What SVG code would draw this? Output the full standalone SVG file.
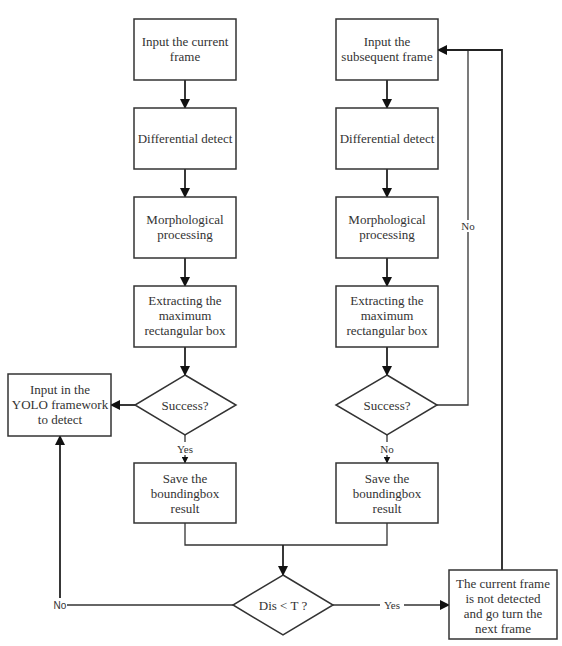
<svg xmlns="http://www.w3.org/2000/svg" width="562" height="646" viewBox="0 0 562 646">
<style>
.box{fill:#fff;stroke:#333;stroke-width:1.5}
text{font-family:'Liberation Serif','Times New Roman','DejaVu Serif',serif;fill:#333;text-anchor:middle}
.t{font-size:13px}
.l{font-size:11px}
.c{fill:none;stroke:#222;stroke-width:1.8}
.c2{fill:none;stroke:#333;stroke-width:1.3}
</style>
<defs>
<marker id="a" markerWidth="10" markerHeight="10" refX="9" refY="5" orient="auto" markerUnits="userSpaceOnUse"><path d="M0,0 L10,5 L0,10 Z" fill="#111"/></marker>
<marker id="s" markerWidth="7" markerHeight="7" refX="6.5" refY="3.5" orient="auto" markerUnits="userSpaceOnUse"><path d="M0,0 L7,3.5 L0,7 Z" fill="#111"/></marker>
</defs>
<rect width="562" height="646" fill="#fff"/>
<g id="connectors">
<path class="c" d="M185,80 V108" marker-end="url(#a)"/>
<path class="c" d="M185,169 V197" marker-end="url(#a)"/>
<path class="c" d="M185,258 V286" marker-end="url(#a)"/>
<path class="c" d="M185,347 V375" marker-end="url(#a)"/>
<path class="c" d="M387,80 V108" marker-end="url(#a)"/>
<path class="c" d="M387,169 V197" marker-end="url(#a)"/>
<path class="c" d="M387,258 V286" marker-end="url(#a)"/>
<path class="c" d="M387,347 V375" marker-end="url(#a)"/>
<path class="c" d="M135,405 H111" marker-end="url(#a)"/>
<path class="c2" d="M185,435 V442"/>
<path class="c2" d="M185,455 V463" marker-end="url(#s)"/>
<path class="c2" d="M387,435 V442"/>
<path class="c2" d="M387,455 V463" marker-end="url(#s)"/>
<path class="c2" d="M437,405 H468 V232"/>
<path class="c2" d="M468,220 V50"/>
<path class="c" d="M502,570 V50 H438" marker-end="url(#a)"/>
<path class="c2" d="M185,523 V545 H387 V523"/>
<path class="c" d="M283,545 V575" marker-end="url(#a)"/>
<path class="c2" d="M333,605 H380"/>
<path class="c2" d="M404,605 H449" marker-end="url(#a)"/>
<path class="c2" d="M233,605 H67"/>
<path class="c" d="M60,598 V436" marker-end="url(#a)"/>
<text class="l" x="185" y="453">Yes</text>
<text class="l" x="387" y="453">No</text>
<text class="l" x="468" y="230">No</text>
<text class="l" x="392" y="609">Yes</text>
<text class="l" x="60" y="609" font-family="Liberation Sans, Arial, sans-serif" style="font-family:'Liberation Sans',Arial,sans-serif;font-size:10px">No</text>
</g>
<g id="n1"><rect class="box" x="134" y="19" width="102" height="61"/><text class="t" x="185" y="46">Input the current</text><text class="t" x="185" y="61">frame</text></g>
<g id="n2"><rect class="box" x="134" y="108" width="102" height="61"/><text class="t" x="185" y="143">Differential detect</text></g>
<g id="n3"><rect class="box" x="134" y="197" width="102" height="61"/><text class="t" x="185" y="224">Morphological</text><text class="t" x="185" y="239">processing</text></g>
<g id="n4"><rect class="box" x="134" y="286" width="102" height="61"/><text class="t" x="185" y="305">Extracting the</text><text class="t" x="185" y="320">maximum</text><text class="t" x="185" y="335">rectangular box</text></g>
<g id="n5"><polygon class="box" points="185,375 236,405 185,435 135,405"/><text class="t" x="185" y="410">Success?</text></g>
<g id="n6"><rect class="box" x="8" y="374" width="103" height="62"/><text class="t" x="60" y="394">Input in the</text><text class="t" x="60" y="409">YOLO framework</text><text class="t" x="60" y="424">to detect</text></g>
<g id="n7"><rect class="box" x="134" y="463" width="102" height="60"/><text class="t" x="185" y="483">Save the</text><text class="t" x="185" y="498">boundingbox</text><text class="t" x="185" y="513">result</text></g>
<g id="m1"><rect class="box" x="336" y="19" width="102" height="61"/><text class="t" x="387" y="46">Input the</text><text class="t" x="387" y="61">subsequent frame</text></g>
<g id="m2"><rect class="box" x="336" y="108" width="102" height="61"/><text class="t" x="387" y="143">Differential detect</text></g>
<g id="m3"><rect class="box" x="336" y="197" width="102" height="61"/><text class="t" x="387" y="224">Morphological</text><text class="t" x="387" y="239">processing</text></g>
<g id="m4"><rect class="box" x="336" y="286" width="102" height="61"/><text class="t" x="387" y="305">Extracting the</text><text class="t" x="387" y="320">maximum</text><text class="t" x="387" y="335">rectangular box</text></g>
<g id="m5"><polygon class="box" points="387,375 437,405 387,435 336,405"/><text class="t" x="387" y="410">Success?</text></g>
<g id="m7"><rect class="box" x="336" y="463" width="102" height="60"/><text class="t" x="387" y="483">Save the</text><text class="t" x="387" y="498">boundingbox</text><text class="t" x="387" y="513">result</text></g>
<g id="d"><polygon class="box" points="283,575 333,605 283,635 233,605"/><text class="t" x="283" y="610">Dis &lt; T ?</text></g>
<g id="f"><rect class="box" x="449" y="570" width="108" height="69"/><text class="t" x="503" y="588">The current frame</text><text class="t" x="503" y="603">is not detected</text><text class="t" x="503" y="618">and go turn the</text><text class="t" x="503" y="633">next frame</text></g>
</svg>
